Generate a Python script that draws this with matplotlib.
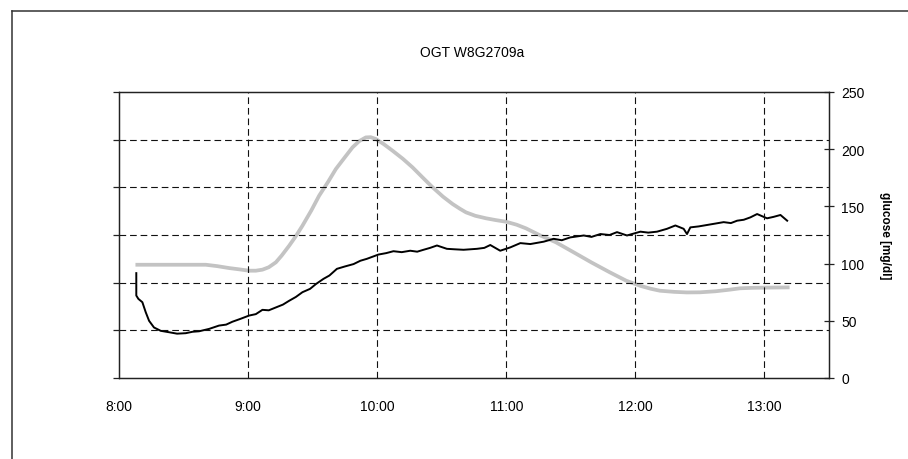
import matplotlib
matplotlib.use('Agg')
import matplotlib.pyplot as plt
from matplotlib.lines import Line2D

plt.rcParams['font.family'] = ['Liberation Sans', 'DejaVu Sans']

title = "OGT W8G2709a"
glucose_label = "glucose [mg/dl]"

# time in hours of day
glucose_t = [8.142, 8.672, 8.76, 8.853, 8.93, 9.008, 9.06, 9.111, 9.16, 9.215, 9.26,
             9.318, 9.37, 9.421, 9.49, 9.55, 9.62, 9.68, 9.75, 9.809, 9.86, 9.912,
             9.95, 9.99, 10.05, 10.119, 10.2, 10.274, 10.35, 10.429, 10.51, 10.584,
             10.64, 10.688, 10.76, 10.843, 10.92, 10.998, 11.08, 11.153, 11.256,
             11.385, 11.52, 11.66, 11.8, 11.93, 12.04, 12.12, 12.19, 12.3, 12.40,
             12.50, 12.62, 12.73, 12.81, 12.9, 13.0, 13.18]
glucose = [99.0, 99.0, 97.8, 96.1, 95.0, 93.8, 93.8, 94.7, 96.8, 101.1, 107.0,
           115.6, 124.0, 133.1, 146.5, 159.3, 171.5, 182.7, 193.0, 201.6, 207.0, 210.3,
           210.5, 208.9, 204.5, 198.7, 191.5, 184.1, 175.5, 166.7, 158.5, 152.1,
           148.0, 144.8, 141.8, 139.6, 138.0, 136.6, 134.0, 130.8, 125.0,
           118.6, 110.0, 101.0, 92.5, 85.0, 80.5, 78.0, 76.3, 75.3, 74.8,
           74.9, 75.8, 77.2, 78.4, 78.8, 79.0, 79.2]

# sensor signal (left axis, unlabelled)
sensor_t = [8.134, 8.134, 8.150, 8.181, 8.207, 8.233, 8.271, 8.323, 8.388, 8.45,
            8.517, 8.57, 8.62, 8.698, 8.775, 8.83, 8.878, 8.94, 9.008, 9.06,
            9.111, 9.16, 9.215, 9.27, 9.318, 9.37, 9.421, 9.48, 9.525, 9.584,
            9.63, 9.688, 9.75, 9.817, 9.87, 9.920, 10.01, 10.07, 10.126, 10.19,
            10.256, 10.31, 10.359, 10.41, 10.463, 10.54, 10.6, 10.669, 10.773,
            10.83, 10.876, 10.953, 11.031, 11.109, 11.186, 11.29, 11.367, 11.43,
            11.496, 11.6, 11.66, 11.729, 11.8, 11.858, 11.935, 12.039, 12.1,
            12.168, 12.245, 12.31, 12.374, 12.4, 12.426, 12.49, 12.555, 12.62,
            12.684, 12.74, 12.788, 12.84, 12.891, 12.943, 13.02, 13.07, 13.124,
            13.176]
sensor = [22.0, 17.3, 16.6, 15.9, 13.8, 12.0, 10.6, 9.9, 9.6, 9.3,
          9.4, 9.7, 9.8, 10.3, 11.0, 11.2, 11.8, 12.4, 13.1, 13.4,
          14.3, 14.2, 14.8, 15.4, 16.2, 17.0, 18.0, 18.7, 19.7, 20.8,
          21.5, 22.9, 23.4, 23.9, 24.6, 25.0, 25.9, 26.2, 26.6, 26.4,
          26.7, 26.5, 26.9, 27.3, 27.8, 27.1, 27.0, 26.9, 27.1,
          27.3, 27.9, 26.7, 27.4, 28.3, 28.1, 28.6, 29.2, 28.9,
          29.5, 29.9, 29.6, 30.2, 30.0, 30.6, 29.9, 30.7, 30.5,
          30.7, 31.3, 32.0, 31.3, 30.2, 31.6, 31.8, 32.1, 32.4,
          32.7, 32.5, 33.0, 33.2, 33.7, 34.4, 33.5, 33.8, 34.2,
          33.0]

hour_ticks = [8, 9, 10, 11, 12, 13]
hour_labels = ["8:00", "9:00", "10:00", "11:00", "12:00", "13:00"]
sensor_ticks = [0, 10, 20, 30, 40, 50, 60]
glucose_ticks = [0, 50, 100, 150, 200, 250]

W, H = 908, 460
fig = plt.figure(figsize=(W / 100, H / 100), dpi=100)
ax = fig.add_axes([119 / W, 1 - 379 / H, 710 / W, 286 / H])
ax2 = ax.twinx()
ax.set_zorder(2)
ax2.set_zorder(1)
ax.patch.set_visible(False)

spine_col = '#222222'
grid_kw = dict(color='#111111', lw=0.8, dashes=(6, 3.5))

ax2.plot(glucose_t, glucose, color='#c3c3c3', lw=2.7, solid_joinstyle='round')
ax.plot(sensor_t, sensor, color='black', lw=1.4)

ax.set_xlim(8, 13.5)
ax.set_ylim(0, 60)
ax2.set_ylim(0, 250)

ax.set_xticks(hour_ticks)
ax.set_xticklabels(hour_labels)
ax.set_yticks(sensor_ticks)
ax.set_yticklabels([])
ax2.set_yticks(glucose_ticks)

for h in hour_ticks[1:]:
    ax.axvline(h, **grid_kw)
for s in sensor_ticks[1:-1]:
    ax.axhline(s, **grid_kw)

ax.tick_params(axis='x', length=0, pad=15, labelsize=10, colors='black')
ax.tick_params(axis='y', direction='out', length=4.5, width=0.9, color=spine_col)
ax2.tick_params(axis='y', direction='inout', length=7.5, width=0.9, color=spine_col,
                pad=5, labelsize=10)

for a in (ax, ax2):
    for sp in a.spines.values():
        sp.set_color(spine_col)
        sp.set_linewidth(0.9)

ax2.set_ylabel(glucose_label, rotation=270, fontsize=8.5, fontweight='bold', labelpad=19)

fig.text(472 / W, 1 - 53 / H, title, ha='center', va='center', fontsize=10)

# outer frame (only top and left edges visible)
fig.add_artist(Line2D([12 / W, 12 / W], [0, 1 - 12 / H], transform=fig.transFigure,
                      color='#333333', lw=1.1))
fig.add_artist(Line2D([12 / W, 1], [1 - 12 / H, 1 - 12 / H], transform=fig.transFigure,
                      color='#333333', lw=1.1))

fig.savefig("out.png", dpi=100)
